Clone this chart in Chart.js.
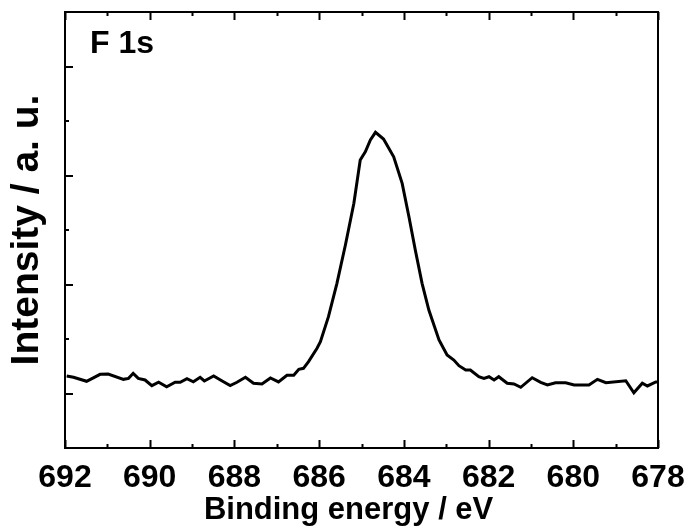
<!DOCTYPE html>
<html>
<head>
<meta charset="utf-8">
<script src="https://cdn.jsdelivr.net/npm/chart.js@4.4.1/dist/chart.umd.min.js"></script>
<style>
  html, body { margin: 0; padding: 0; background: #fff; }
  #wrap { width: 691px; height: 531px; }
</style>
</head>
<body>
<div id="wrap"><canvas id="xps" width="691" height="531"></canvas></div>
<script>
// F 1s XPS spectrum (arbitrary intensity units)
const energy = [
  691.96, 691.80, 691.49, 691.17, 690.98, 690.62, 690.50, 690.39, 690.27, 690.11,
  689.95, 689.79, 689.60, 689.40, 689.28, 689.12, 688.97, 688.81, 688.71, 688.49,
  688.30, 688.10, 687.94, 687.74, 687.55, 687.35, 687.15, 686.96, 686.76, 686.60,
  686.48, 686.37, 686.25, 686.05, 685.97, 685.78, 685.58, 685.38, 685.18, 685.03,
  684.91, 684.79, 684.67, 684.48, 684.24, 684.04, 683.88, 683.73, 683.57, 683.41,
  683.17, 682.98, 682.82, 682.70, 682.54, 682.43, 682.23, 682.11, 681.99, 681.87,
  681.76, 681.56, 681.40, 681.24, 680.97, 680.77, 680.61, 680.42, 680.18, 679.98,
  679.63, 679.43, 679.23, 678.76, 678.57, 678.37, 678.25, 678.05, 678.00
];
const intensity = [
  0.661, 0.649, 0.612, 0.676, 0.679, 0.630, 0.639, 0.685, 0.639, 0.624,
  0.572, 0.603, 0.562, 0.603, 0.603, 0.636, 0.608, 0.649, 0.615, 0.661,
  0.617, 0.572, 0.603, 0.649, 0.594, 0.587, 0.642, 0.606, 0.667, 0.667,
  0.722, 0.731, 0.792, 0.915, 0.975, 1.205, 1.511, 1.862, 2.245, 2.642,
  2.718, 2.826, 2.896, 2.835, 2.672, 2.428, 2.122, 1.817, 1.511, 1.266,
  0.991, 0.853, 0.807, 0.755, 0.716, 0.716, 0.654, 0.639, 0.654, 0.624,
  0.654, 0.594, 0.587, 0.557, 0.645, 0.603, 0.578, 0.599, 0.599, 0.578,
  0.578, 0.630, 0.599, 0.617, 0.507, 0.594, 0.569, 0.606, 0.606
];
const xMajorTicks = [692, 690, 688, 686, 684, 682, 680, 678];
const xMinorTicks = [691, 689, 687, 685, 683, 681, 679];
const yMajorTicks = [0.5, 1.5, 2.5, 3.5];
const yMinorTicks = [1, 2, 3];
const panelLabel = "F 1s";

const FONT = "'Liberation Sans', Arial, Helvetica, sans-serif";

// Box frame with inward ticks, drawn from the chart's own scales.
const frameTicks = {
  id: "frameTicks",
  afterDraw(chart) {
    const { ctx, chartArea } = chart;
    const { left, right, top, bottom } = chartArea;
    const xs = chart.scales.x;
    const ys = chart.scales.y;
    ctx.save();
    ctx.strokeStyle = "#000";
    ctx.lineWidth = 2;
    ctx.strokeRect(left, top, right - left, bottom - top);

    ctx.beginPath();
    const xTick = (v, len) => {
      const px = Math.round(xs.getPixelForValue(v)) + 0.5;
      ctx.moveTo(px, bottom);
      ctx.lineTo(px, bottom - len);
      ctx.moveTo(px, top);
      ctx.lineTo(px, top + len);
    };
    xMajorTicks.forEach((v) => xTick(v, 8));
    xMinorTicks.forEach((v) => xTick(v, 4));

    const yTick = (v, len) => {
      const py = Math.round(ys.getPixelForValue(v));
      ctx.moveTo(left, py);
      ctx.lineTo(left + len, py);
    };
    yMajorTicks.forEach((v) => yTick(v, 8));
    yMinorTicks.forEach((v) => yTick(v, 4));
    ctx.stroke();

    ctx.fillStyle = "#000";
    ctx.font = "bold 32px " + FONT;
    ctx.textBaseline = "alphabetic";
    ctx.fillText(panelLabel, left + 25, 53);
    ctx.restore();
  }
};

const ctx = document.getElementById("xps").getContext("2d");
new Chart(ctx, {
  type: "line",
  data: {
    datasets: [
      {
        data: energy.map((e, i) => ({ x: e, y: intensity[i] })),
        borderColor: "#000",
        borderWidth: 3,
        pointRadius: 0,
        tension: 0,
        fill: false
      }
    ]
  },
  options: {
    responsive: false,
    animation: false,
    devicePixelRatio: 1,
    layout: { padding: { top: 12, right: 33, left: 0, bottom: 0 } },
    plugins: {
      legend: { display: false },
      tooltip: { enabled: false }
    },
    scales: {
      x: {
        type: "linear",
        reverse: true,
        min: 678,
        max: 692,
        afterFit: (s) => {
          s.height = 83;
          s.paddingLeft = 0;
          s.paddingRight = 0;
        },
        grid: { display: false, drawTicks: false },
        border: { display: false },
        ticks: {
          stepSize: 2,
          maxRotation: 0,
          autoSkip: false,
          padding: 11,
          color: "#000",
          font: { family: FONT, size: 32, weight: "bold" }
        },
        title: {
          display: true,
          text: "Binding energy / eV   ",
          color: "#000",
          padding: { top: 0, bottom: 2 },
          font: { family: FONT, size: 31, weight: "bold" }
        }
      },
      y: {
        min: 0,
        max: 4,
        afterFit: (s) => { s.width = 65; },
        grid: { display: false, drawTicks: false },
        border: { display: false },
        ticks: { display: false },
        title: {
          display: true,
          text: "Intensity / a. u.",
          color: "#000",
          padding: { top: 4, bottom: 0 },
          font: { family: FONT, size: 39, weight: "bold" }
        }
      }
    }
  },
  plugins: [frameTicks]
});
</script>
</body>
</html>
